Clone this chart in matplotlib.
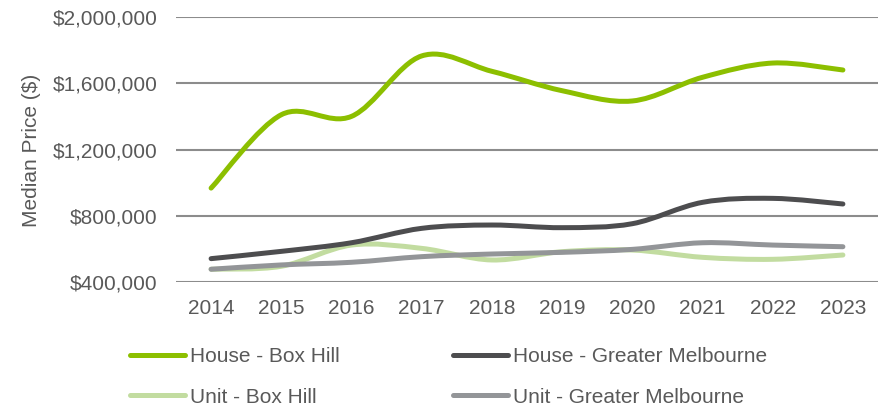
import matplotlib.pyplot as plt
from matplotlib.path import Path
from matplotlib.patches import PathPatch
from matplotlib.lines import Line2D
from matplotlib.ticker import FuncFormatter

plt.rcParams['font.family'] = ['Liberation Sans', 'DejaVu Sans']

years = [2014, 2015, 2016, 2017, 2018, 2019, 2020, 2021, 2022, 2023]

house_box_hill = [967000, 1410000, 1400000, 1765000, 1672000, 1555000, 1493000, 1636000, 1722000, 1680000]
house_melb = [541000, 585000, 637000, 724000, 744000, 728000, 752000, 881000, 905000, 871000]
unit_box_hill = [477000, 495000, 623000, 603000, 533000, 583000, 593000, 549000, 537000, 563000]
unit_melb = [477000, 503000, 519000, 553000, 569000, 579000, 597000, 637000, 623000, 613000]

labels = ['House - Box Hill', 'House - Greater Melbourne', 'Unit - Box Hill', 'Unit - Greater Melbourne']
colors = ['#8cbf00', '#4d4d4f', '#c2dca0', '#939598']
text_col = '#595959'


def smooth_path(xs, ys):
    # excel style smoothed line: cubic bezier through every point
    pts = list(zip(xs, ys))
    verts = [pts[0]]
    codes = [Path.MOVETO]
    n = len(pts)
    for i in range(n - 1):
        p0 = pts[max(i - 1, 0)]
        p1 = pts[i]
        p2 = pts[i + 1]
        p3 = pts[min(i + 2, n - 1)]
        c1 = (p1[0] + (p2[0] - p0[0]) / 6, p1[1] + (p2[1] - p0[1]) / 6)
        c2 = (p2[0] - (p3[0] - p1[0]) / 6, p2[1] - (p3[1] - p1[1]) / 6)
        verts += [c1, c2, p2]
        codes += [Path.CURVE4] * 3
    return Path(verts, codes)


fig = plt.figure(figsize=(8.81, 4.08), dpi=100)
ax = fig.add_axes([176 / 881, 1 - 282 / 408, 702 / 881, 265 / 408])

x = list(range(len(years)))
series = [house_box_hill, house_melb, unit_box_hill, unit_melb]
# draw lighter ones first so the dark lines sit on top
for idx in [2, 3, 1, 0]:
    patch = PathPatch(smooth_path(x, series[idx]), fill=False, edgecolor=colors[idx],
                      lw=3.6, capstyle='round', joinstyle='round', zorder=3)
    ax.add_patch(patch)

ax.set_xlim(-0.5, len(years) - 0.5)
ax.set_ylim(400000, 2000000)
ax.set_yticks([400000, 800000, 1200000, 1600000, 2000000])
ax.yaxis.set_major_formatter(FuncFormatter(lambda v, p: '${:,.0f}'.format(v)))
ax.set_xticks(x)
ax.set_xticklabels(years)
ax.grid(axis='y', color='#8c8c8c', lw=1.5, zorder=0)
ax.set_axisbelow(True)
for s in ax.spines.values():
    s.set_visible(False)
ax.tick_params(axis='both', length=0, labelsize=15, colors=text_col)
ax.tick_params(axis='x', pad=12.5)
ax.tick_params(axis='y', pad=13.5)

fig.text(32 / 881, 1 - 150 / 408, 'Median Price ($)', rotation=90, ha='center', va='center',
         fontsize=15, color=text_col)

handles = [Line2D([], [], color=c, lw=3.6, solid_capstyle='round') for c in colors]
order = [0, 2, 1, 3]
leg = fig.legend([handles[i] for i in order], [labels[i] for i in order], ncol=2,
                 loc='upper left', bbox_to_anchor=(129.5 / 881, 1 - 347.5 / 408), frameon=False,
                 fontsize=15, handlelength=2.65, handletextpad=0.24, columnspacing=5.45,
                 labelspacing=1.02, borderaxespad=0, borderpad=0)
for t in leg.get_texts():
    t.set_color(text_col)

plt.savefig('out.png', dpi=100)
